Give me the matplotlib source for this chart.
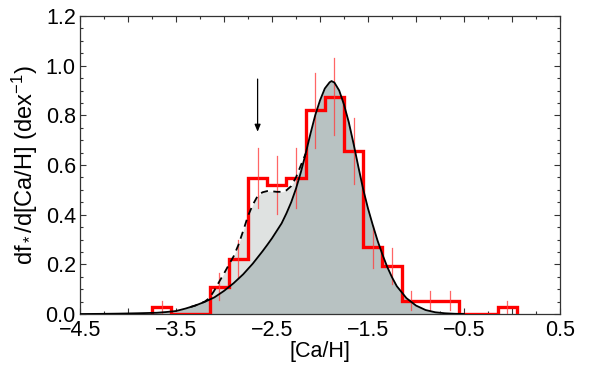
import matplotlib
matplotlib.use("Agg")
import matplotlib.pyplot as plt
import numpy as np
from matplotlib.ticker import MultipleLocator

plt.rcParams['font.family'] = ['Liberation Sans', 'DejaVu Sans']
plt.rcParams['mathtext.fontset'] = 'custom'
plt.rcParams['mathtext.rm'] = 'Liberation Sans'
plt.rcParams['mathtext.it'] = 'Liberation Sans:italic'

# Histogram (bin edges and heights in dex^-1)
bin_edges = [-3.75, -3.55, -3.35, -3.15, -2.95, -2.75, -2.55, -2.35, -2.15, -1.95,
             -1.75, -1.55, -1.35, -1.15, -0.95, -0.75, -0.55, -0.35, -0.15, 0.05]
hist_vals = [0.027, 0.0, 0.0, 0.110, 0.220, 0.546, 0.520, 0.546, 0.820, 0.875,
             0.656, 0.270, 0.193, 0.054, 0.054, 0.054, 0.0, 0.0, 0.027]
hist_err = [0.027, 0.0, 0.0, 0.054, 0.076, 0.121, 0.118, 0.121, 0.150, 0.155,
            0.133, 0.085, 0.071, 0.038, 0.038, 0.038, 0.0, 0.0, 0.027]

# Solid model curve
solid_x = [-4.5, -4.3, -4.1, -3.9, -3.7, -3.6, -3.5, -3.4, -3.3, -3.2, -3.1, -3.0,
           -2.9, -2.8, -2.7, -2.6, -2.55, -2.5, -2.4, -2.35, -2.3, -2.25, -2.2, -2.15,
           -2.1, -2.05, -2.0, -1.95, -1.9, -1.88, -1.85, -1.8, -1.75, -1.7, -1.65,
           -1.6, -1.55, -1.5, -1.45, -1.4, -1.35, -1.3, -1.25, -1.2, -1.1, -1.0,
           -0.9, -0.8, -0.7, -0.6, -0.5]
solid_y = [0.0, 0.0005, 0.0015, 0.003, 0.005, 0.008, 0.012, 0.022, 0.034, 0.049, 0.067, 0.093,
           0.124, 0.160, 0.203, 0.252, 0.278, 0.305, 0.365, 0.405, 0.450, 0.505, 0.570, 0.645,
           0.725, 0.800, 0.860, 0.908, 0.933, 0.938, 0.932, 0.900, 0.843, 0.772, 0.685,
           0.592, 0.502, 0.425, 0.358, 0.295, 0.240, 0.190, 0.148, 0.112, 0.064, 0.034,
           0.016, 0.007, 0.003, 0.001, 0.0]

# Dashed model curve
dash_x = [-3.35, -3.3, -3.2, -3.15, -3.1, -3.05, -3.0, -2.95, -2.9, -2.85, -2.8, -2.75,
          -2.7, -2.65, -2.6, -2.55, -2.5, -2.45, -2.4, -2.35, -2.3, -2.25, -2.2, -2.15]
dash_y = [0.028, 0.034, 0.050, 0.065, 0.095, 0.130, 0.163, 0.198, 0.232, 0.278, 0.335, 0.395,
          0.440, 0.475, 0.490, 0.495, 0.494, 0.492, 0.492, 0.498, 0.515, 0.550, 0.598, 0.645]

arrow_x = -2.65
arrow_top = 0.946
arrow_bottom = 0.734

xtick_vals = [-4.5, -4.0, -3.5, -3.0, -2.5, -2.0, -1.5, -1.0, -0.5, 0.0, 0.5]
xtick_labels = ['\u22124.5', '', '\u22123.5', '', '\u22122.5', '', '\u22121.5', '', '\u22120.5', '', '0.5']
ytick_vals = [0.0, 0.2, 0.4, 0.6, 0.8, 1.0, 1.2]
ytick_labels = ['0.0', '0.2', '0.4', '0.6', '0.8', '1.0', '1.2']

fig = plt.figure(figsize=(6.07, 3.78), dpi=100)
ax = fig.add_axes([80/607, 1-314/378, 480/607, 298/378])

sx = np.array(solid_x); sy = np.array(solid_y)
dx = np.array(dash_x); dy = np.array(dash_y)

# light fill under dashed curve
ax.fill_between(dx, 0, dy, color='#dfe2e1', lw=0, zorder=1)
# dark fill under solid curve
ax.fill_between(sx, 0, sy, color='#b8c2c2', lw=0, zorder=2)

# histogram
ax.stairs(hist_vals, bin_edges, baseline=0, color='#ff0000', lw=2.4, zorder=3)
centers = [(bin_edges[i] + bin_edges[i+1]) / 2 for i in range(len(hist_vals))]
for c, v, e in zip(centers, hist_vals, hist_err):
    if e > 0:
        ax.plot([c, c], [v - e, v + e], color='#ff4040', lw=0.9, alpha=0.8, zorder=3)

ax.plot(sx, sy, color='black', lw=1.3, zorder=4)
ax.plot(dx, dy, color='black', lw=1.3, ls=(0, (4, 3)), zorder=4)

ax.annotate('', xy=(arrow_x, arrow_bottom), xytext=(arrow_x, arrow_top),
            arrowprops=dict(arrowstyle='-|>,head_length=0.6,head_width=0.25', color='black', lw=0.9,
                            mutation_scale=7, shrinkA=0, shrinkB=0), zorder=5)

ax.set_xlim(-4.5, 0.5)
ax.set_ylim(0, 1.2)
ax.set_xticks(xtick_vals)
ax.set_xticklabels(xtick_labels)
ax.xaxis.set_minor_locator(MultipleLocator(0.25))
ax.set_yticks(ytick_vals)
ax.set_yticklabels(ytick_labels)
ax.yaxis.set_minor_locator(MultipleLocator(0.05))
ax.tick_params(which='both', direction='in', top=True, right=True, labelsize=15.5,
               width=0.8, color='#333333')
ax.tick_params(axis='x', pad=4)
ax.tick_params(axis='y', pad=3)
ax.tick_params(which='major', length=4.5)
ax.tick_params(which='minor', length=2.5)
for s in ax.spines.values():
    s.set_linewidth(0.9)
    s.set_color('#333333')

ax.set_xlabel('[Ca/H]', fontsize=15.5, labelpad=0)
ax.set_ylabel('df$_*$/d[Ca/H] (dex$^{-1}$)', fontsize=17, labelpad=4)

fig.savefig('out.png', dpi=100)
